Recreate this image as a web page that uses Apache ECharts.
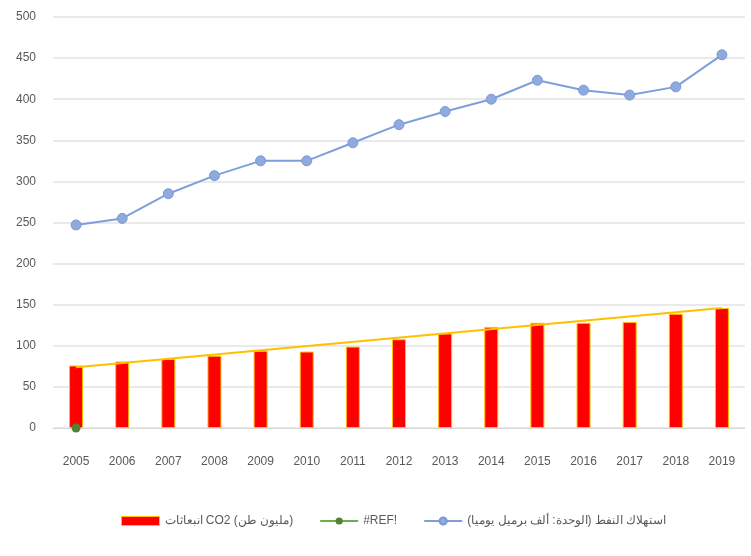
<!DOCTYPE html>
<html><head><meta charset="utf-8">
<script src="https://cdn.jsdelivr.net/npm/echarts@6/dist/echarts.min.js"></script>
<style>html,body{margin:0;padding:0;background:#fff}#c{width:751px;height:556px}</style>
</head><body><div id="c"></div>
<script>
const years = ['2005','2006','2007','2008','2009','2010','2011','2012','2013','2014','2015','2016','2017','2018','2019'];
const co2 = [76,81,84,88,94,93,99,108,115,123,128,128,129,139,146];
const oil = [247,255,285,307,325,325,347,369,385,400,423,411,405,415,454];
const ref = [0];
const trend = [74,null,null,null,null,null,null,null,null,null,null,null,null,null,146];
const yTicks = [0,50,100,150,200,250,300,350,400,450,500];
const names = ['انبعاثات CO2 (مليون طن)', '#REF!', 'استهلاك النفط (الوحدة: ألف برميل يوميا)'];

const chart = echarts.init(document.getElementById('c'));
chart.setOption({
  animation:false,
  textStyle:{fontFamily:'Liberation Sans Narrow, Liberation Sans, sans-serif'},
  grid:{left:53,right:6,top:17,bottom:128},
  legend:{
    bottom:24, left:116, itemGap:26,
    textStyle:{color:'#595959',fontSize:12},
    data:[
      {name:names[0], icon:'rect', itemStyle:{color:'#FF0000',borderColor:'#FFC000',borderWidth:1}},
      {name:names[1]},
      {name:names[2]}
    ],
    itemWidth:38,itemHeight:9
  },
  xAxis:{type:'category',data:years,boundaryGap:true,
    axisLine:{lineStyle:{color:'#d9d9d9'}},axisTick:{show:false},
    axisLabel:{color:'#595959',fontSize:12,margin:28}},
  yAxis:{type:'value',min:yTicks[0],max:yTicks[yTicks.length-1],interval:50,
    axisLine:{show:false},axisTick:{show:false},
    splitLine:{lineStyle:{color:'#e3e3e3',width:1.5}},
    axisLabel:{color:'#595959',fontSize:12,margin:17}},
  series:[
    {name:names[0],type:'bar',data:co2,barWidth:14,
      itemStyle:{color:'#FF0000',borderColor:'#FFC000',borderWidth:1},z:2},
    {name:'trend',type:'line',data:trend,connectNulls:true,symbol:'none',
      lineStyle:{color:'#FFC000',width:2},z:3,silent:true},
    {name:names[1],type:'line',data:ref,symbol:'circle',symbolSize:9,
      itemStyle:{color:'#548235'},lineStyle:{color:'#70AD47',width:2},z:4},
    {name:names[2],type:'line',data:oil,symbol:'circle',symbolSize:10,
      itemStyle:{color:'#8FAADC',borderColor:'#7A98D6',borderWidth:1},
      lineStyle:{color:'#7F9FDB',width:2},z:5}
  ]
});
</script></body></html>
